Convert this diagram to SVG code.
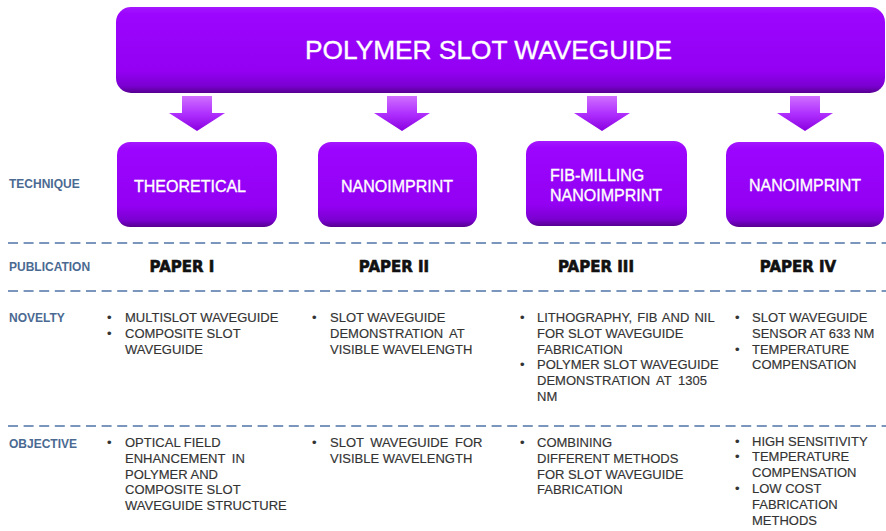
<svg xmlns="http://www.w3.org/2000/svg" width="886" height="531" viewBox="0 0 886 531">
<defs>
<linearGradient id="boxg" x1="0" y1="0" x2="0" y2="1">
<stop offset="0" stop-color="#a418ff"/>
<stop offset="0.08" stop-color="#9c05ff"/>
<stop offset="0.75" stop-color="#9300f2"/>
<stop offset="0.92" stop-color="#7a00d0"/>
<stop offset="1" stop-color="#560090"/>
</linearGradient>
<linearGradient id="arrg" x1="0" y1="0" x2="0" y2="1">
<stop offset="0" stop-color="#d070ff"/>
<stop offset="0.5" stop-color="#b030ff"/>
<stop offset="1" stop-color="#8a00e0"/>
</linearGradient>
<polygon id="arrow" points="-15,0 15,0 15,17 28,17 0,35 -28,17 -15,17"/>
</defs>
<style>
.box{fill:url(#boxg);}
.wt{fill:#ffffff;stroke:#ffffff;stroke-width:0.35;font-family:"Liberation Sans",Arial,sans-serif;}
.lbl{fill:#4b6a92;font-family:"Liberation Sans",Arial,sans-serif;font-weight:bold;font-size:12px;}
.pp{fill:#111111;stroke:#111111;stroke-width:0.6;font-family:"DejaVu Sans",sans-serif;font-weight:bold;font-size:15px;text-anchor:middle;}
.bd{fill:#333333;stroke:#333333;stroke-width:0.15;font-family:"Liberation Sans",Arial,sans-serif;font-size:13px;}
.dash{stroke:#7a96bd;stroke-width:2;stroke-dasharray:10 5.6;fill:none;}
.arr{fill:url(#arrg);}
</style>
<rect width="886" height="531" fill="#ffffff"/>

<g id="top">
<rect class="box" x="116" y="7" width="769" height="86" rx="15"/>
<text class="wt" x="488.5" y="59" font-size="25" text-anchor="middle" textLength="367" lengthAdjust="spacingAndGlyphs">POLYMER SLOT WAVEGUIDE</text>
</g>

<g id="connectors">
<use href="#arrow" class="arr" x="197" y="96"/>
<use href="#arrow" class="arr" x="402" y="96"/>
<use href="#arrow" class="arr" x="602" y="96"/>
<use href="#arrow" class="arr" x="805" y="96"/>
</g>

<g id="tech1">
<rect class="box" x="117" y="142" width="160" height="85" rx="13"/>
<text class="wt" x="190" y="192" font-size="16" text-anchor="middle">THEORETICAL</text>
</g>
<g id="tech2">
<rect class="box" x="318" y="142" width="159" height="85" rx="13"/>
<text class="wt" x="397" y="192" font-size="16" text-anchor="middle">NANOIMPRINT</text>
</g>
<g id="tech3">
<rect class="box" x="526" y="141" width="161" height="85" rx="13"/>
<text class="wt" x="550" y="181" font-size="16">FIB-MILLING</text>
<text class="wt" x="550" y="201" font-size="16">NANOIMPRINT</text>
</g>
<g id="tech4">
<rect class="box" x="726" y="142" width="158" height="85" rx="13"/>
<text class="wt" x="805" y="191" font-size="16" text-anchor="middle">NANOIMPRINT</text>
</g>

<g id="rows">
<text class="lbl" x="9" y="188">TECHNIQUE</text>
<text class="lbl" x="9" y="271">PUBLICATION</text>
<text class="lbl" x="9" y="322">NOVELTY</text>
<text class="lbl" x="9" y="448">OBJECTIVE</text>
<line class="dash" x1="8" y1="243" x2="886" y2="243"/>
<line class="dash" x1="8" y1="291" x2="886" y2="291"/>
<line class="dash" x1="8" y1="426" x2="886" y2="426"/>
</g>

<g id="papers">
<text class="pp" x="182" y="272">PAPER I</text>
<text class="pp" x="394" y="272">PAPER II</text>
<text class="pp" x="596" y="272">PAPER III</text>
<text class="pp" x="798" y="272">PAPER IV</text>
</g>

<g id="novelty">
<text class="bd"><tspan x="107" y="322">•</tspan><tspan x="107" y="337.8">•</tspan></text>
<text class="bd"><tspan x="125" y="322">MULTISLOT WAVEGUIDE</tspan><tspan x="125" y="337.8">COMPOSITE SLOT</tspan><tspan x="125" y="353.6">WAVEGUIDE</tspan></text>
<text class="bd"><tspan x="312" y="322">•</tspan></text>
<text class="bd"><tspan x="330" y="322">SLOT WAVEGUIDE</tspan><tspan x="330" y="337.8" word-spacing="3">DEMONSTRATION AT</tspan><tspan x="330" y="353.6">VISIBLE WAVELENGTH</tspan></text>
<text class="bd"><tspan x="520" y="322">•</tspan><tspan x="520" y="369.4">•</tspan></text>
<text class="bd"><tspan x="537" y="322" word-spacing="1.5">LITHOGRAPHY, FIB AND NIL</tspan><tspan x="537" y="337.8">FOR SLOT WAVEGUIDE</tspan><tspan x="537" y="353.6">FABRICATION</tspan><tspan x="537" y="369.4">POLYMER SLOT WAVEGUIDE</tspan><tspan x="537" y="385.2" word-spacing="3">DEMONSTRATION AT 1305</tspan><tspan x="537" y="401">NM</tspan></text>
<text class="bd"><tspan x="735" y="322">•</tspan><tspan x="735" y="353.6">•</tspan></text>
<text class="bd"><tspan x="752" y="322">SLOT WAVEGUIDE</tspan><tspan x="752" y="337.8">SENSOR AT 633 NM</tspan><tspan x="752" y="353.6">TEMPERATURE</tspan><tspan x="752" y="369.4">COMPENSATION</tspan></text>
</g>

<g id="objective">
<text class="bd"><tspan x="107" y="447">•</tspan></text>
<text class="bd"><tspan x="125" y="447">OPTICAL FIELD</tspan><tspan x="125" y="462.8" word-spacing="3">ENHANCEMENT IN</tspan><tspan x="125" y="478.6">POLYMER AND</tspan><tspan x="125" y="494.4">COMPOSITE SLOT</tspan><tspan x="125" y="510.2">WAVEGUIDE STRUCTURE</tspan></text>
<text class="bd"><tspan x="312" y="447">•</tspan></text>
<text class="bd"><tspan x="330" y="447" word-spacing="3">SLOT WAVEGUIDE FOR</tspan><tspan x="330" y="462.8">VISIBLE WAVELENGTH</tspan></text>
<text class="bd"><tspan x="520" y="447">•</tspan></text>
<text class="bd"><tspan x="537" y="447">COMBINING</tspan><tspan x="537" y="462.8">DIFFERENT METHODS</tspan><tspan x="537" y="478.6">FOR SLOT WAVEGUIDE</tspan><tspan x="537" y="494.4">FABRICATION</tspan></text>
<text class="bd"><tspan x="735" y="445.5">•</tspan><tspan x="735" y="461.3">•</tspan><tspan x="735" y="492.9">•</tspan></text>
<text class="bd"><tspan x="752" y="445.5">HIGH SENSITIVITY</tspan><tspan x="752" y="461.3">TEMPERATURE</tspan><tspan x="752" y="477.1">COMPENSATION</tspan><tspan x="752" y="492.9">LOW COST</tspan><tspan x="752" y="508.7">FABRICATION</tspan><tspan x="752" y="524.5">METHODS</tspan></text>
</g>
</svg>
